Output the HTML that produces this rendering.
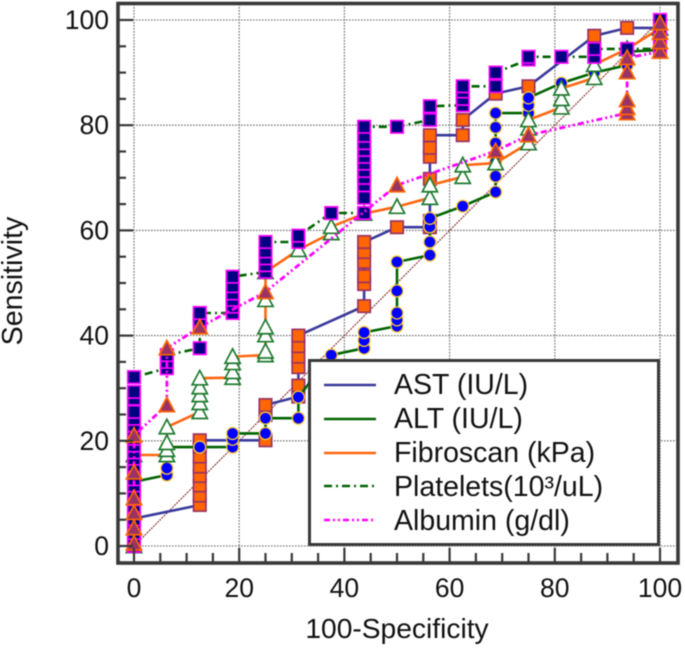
<!DOCTYPE html>
<html lang="en">
<head>
<meta charset="utf-8">
<title>ROC curves</title>
<style>
html,body{margin:0;padding:0;background:#fff;width:685px;height:648px;overflow:hidden}
svg{display:block;filter:blur(0.4px)}
text{font-family:"Liberation Sans",Arial,sans-serif;fill:#111}
</style>
</head>
<body>
<svg id="chart" xmlns="http://www.w3.org/2000/svg" width="685" height="648" viewBox="0 0 685 648"></svg>
<script>
const xTickLabels = [0, 20, 40, 60, 80, 100];
const yTickLabels = [0, 20, 40, 60, 80, 100];
const minorTicks = [5, 10, 15, 25, 30, 35, 45, 50, 55, 65, 70, 75, 85, 90, 95];
const diagonalX = [0, 100];
const diagonalY = [0, 100];

const astX = [0,0,0,12.5,12.5,12.5,12.5,12.5,12.5,12.5,12.5,25,25,25,31.25,31.25,31.25,31.25,31.25,31.25,43.75,43.75,43.75,43.75,43.75,43.75,50,56.25,56.25,56.25,56.25,56.25,56.25,62.5,62.5,68.75,75,87.5,93.75,100,100];
const astY = [0,2.6,5.2,7.8,9.6,11.5,13.3,15.1,17,18.9,20.1,20.1,24.9,26.8,28.4,30.5,34,36,38,40,45.6,49.8,51.3,54,55.9,57.8,60.6,60.6,61.8,69.8,74,75.7,78.1,78.1,81,86,87.4,97,98.5,98.5,100];

const altX = [0,0,0,6.25,6.25,6.25,12.5,18.75,18.75,18.75,25,25,31.25,31.25,37.5,43.75,43.75,43.75,50,50,50,50,50,56.25,56.25,56.25,56.25,62.5,68.75,68.75,68.75,68.75,68.75,68.75,75,75,75,81.25,87.5,93.75,93.75,100,100];
const altY = [0,6,12.2,13.5,14.8,18.8,18.8,18.8,20.3,21.4,21.4,24.3,24.3,28.3,36.3,37.6,39.1,40.6,41.8,43,44.3,48.5,54,55.3,57.8,60.7,62.3,64.6,67.3,70.3,73,76.6,79.6,82.3,82.3,83.8,85.2,88,90,91.4,94,94.3,100];

const fibroX = [0,0,6.25,6.25,6.25,6.25,12.5,12.5,12.5,12.5,12.5,18.75,18.75,18.75,18.75,25,25,25,25,25,25,31.25,37.5,37.5,43.75,50,56.25,56.25,62.5,62.5,68.75,75,75,75,81.25,81.25,81.25,87.5,87.5,93.75,100];
const fibroY = [0,17.3,17.3,18.3,19.6,22.6,25.5,27.2,28.7,30.2,31.9,32,33.1,34.8,36,36.3,37,40.1,41.6,46.8,52.1,56.3,59.5,60.7,63.2,64.5,66.2,68.6,70.2,72.4,72.8,76.6,79.4,81,83.4,85,87,89,91.5,94.5,98.4];

const plateletsX = [0,0,0,0,0,0,0,0,0,0,0,0,0,0,0,0,0,0,0,0,0,0,0,0,6.25,6.25,6.25,12.5,12.5,12.5,12.5,18.75,18.75,18.75,18.75,18.75,18.75,25,25,25,25,25,31.25,31.25,37.5,43.75,43.75,43.75,43.75,43.75,43.75,43.75,43.75,43.75,43.75,43.75,50,56.25,56.25,62.5,62.5,62.5,62.5,68.75,68.75,75,75,81.25,87.5,87.5,93.75,100,100,100];
const plateletsY = [0,1.3,2.5,3.8,5.1,6.4,7.6,8.9,10.2,11.5,12.7,14,15.3,16.6,17.8,19.1,20.4,21.7,22.9,24.2,25.5,28,29.3,32.1,33.8,35,36.3,37.6,42,43,44.3,44.3,45.5,46.8,48,49.4,51.2,52.1,53.4,54.7,56,57.8,57.8,59,63.3,63.3,66.2,68.6,70,71.3,72.7,74,75.3,76.6,78,79.7,79.7,81,83.6,83.8,85,86.4,87.4,87.4,90,92.5,93,93,93,94.5,94.5,94.5,97,100];

const albuminX = [0,0,0,0,0,0,6.25,6.25,12.5,25,50,68.75,75,93.75,93.75,93.75,93.75,93.75,100,100,100,100];
const albuminY = [0.5,3.4,6.3,9.1,14,21,26.8,37.6,41.6,48.3,68.6,75.1,78.1,82.3,83.3,84.8,90.1,92.8,94,95.8,97.6,99.4];

const NS = 'http://www.w3.org/2000/svg';
const svg = document.getElementById('chart');
const sx = v => 134 + v * 5.26;
const sy = v => 546 - v * 5.26;

function make(tag, attrs, parent) {
  const el = document.createElementNS(NS, tag);
  for (const k in attrs) el.setAttribute(k, attrs[k]);
  (parent || svg).appendChild(el);
  return el;
}
function group(name) {
  const g = make('g', {});
  
  
  return g;
}
function pointsOf(xs, ys) {
  return xs.map((x, i) => sx(x).toFixed(1) + ',' + sy(ys[i]).toFixed(1)).join(' ');
}

/* background */
const bg = make('rect', {x: 0, y: 0, width: 685, height: 648, fill: '#fff'});



/* grid */
const grid = group('grid');
xTickLabels.forEach(v => {
  const gx = make('line', {x1: sx(v), x2: sx(v), y1: 4, y2: 563, stroke: '#666', 'stroke-width': 1.1, 'stroke-dasharray': '1.6 1.4'}, grid);
  
  
});
yTickLabels.forEach(v => {
  const gy = make('line', {x1: 118, x2: 678, y1: sy(v), y2: sy(v), stroke: '#666', 'stroke-width': 1.1, 'stroke-dasharray': '1.6 1.4'}, grid);
  
  
});

/* diagonal reference */
const diag = make('polyline', {points: pointsOf(diagonalX, diagonalY), fill: 'none', stroke: '#8f3a3a', 'stroke-width': 1.2, 'stroke-dasharray': '2 1'});



/* marker drawers */
function square(g, x, y, fill, stroke) {
  const m = make('rect', {x: sx(x) - 6.2, y: sy(y) - 6.2, width: 12.4, height: 12.4, fill: fill, stroke: stroke, 'stroke-width': 1.7}, g);
  return m;
}
function circle(g, x, y, fill, stroke) {
  const m = make('circle', {cx: sx(x), cy: sy(y), r: 6, fill: fill, stroke: stroke, 'stroke-width': 1.3}, g);
  return m;
}
function triangle(g, x, y, fill, stroke) {
  const cx = sx(x), cy = sy(y);
  const m = make('polygon', {points: (cx - 7.6) + ',' + (cy + 6.6) + ' ' + (cx + 7.6) + ',' + (cy + 6.6) + ' ' + cx + ',' + (cy - 7.8), fill: fill, stroke: stroke, 'stroke-width': 1.7}, g);
  return m;
}

function drawSeries(name, xs, ys, color, width, dash, marker, fill, edge) {
  const g = group(name + '-series');
  const attrs = {points: pointsOf(xs, ys), fill: 'none', stroke: color, 'stroke-width': width};
  if (dash) attrs['stroke-dasharray'] = dash;
  const ln = make('polyline', attrs, g);
  
  
  xs.forEach((x, i) => {
    const m = marker(g, x, ys[i], fill, edge);
    
    
  });
}

drawSeries('ast', astX, astY, '#3a3a9c', 2.6, '', square, '#ff6600', '#993366');
drawSeries('alt', altX, altY, '#006400', 2.6, '', circle, '#0000ff', '#ffcc33');
drawSeries('fibroscan', fibroX, fibroY, '#ff6611', 2.6, '', triangle, '#ffffff', '#1f7a2f');
drawSeries('platelets', plateletsX, plateletsY, '#006400', 2.6, '8 4 2 4', square, '#000080', '#ff00ff');
drawSeries('albumin', albuminX, albuminY, '#ff00ff', 2.8, '6 3 2 3 2 3', triangle, '#993366', '#ff6600');

/* frame and ticks */
const axes = group('axes');
const frame = make('rect', {x: 118, y: 3.5, width: 560, height: 559.5, fill: 'none', stroke: '#383838', 'stroke-width': 3.6}, axes);



xTickLabels.forEach(v => {
  const t = make('line', {x1: sx(v), x2: sx(v), y1: 563, y2: 548, stroke: '#383838', 'stroke-width': 2.2}, axes);
  
  
  const lb = make('text', {x: sx(v), y: 597, 'text-anchor': 'middle', 'font-size': 26.5}, axes);
  lb.textContent = v;
  
  
});
minorTicks.forEach(v => {
  const t = make('line', {x1: sx(v), x2: sx(v), y1: 563, y2: 553, stroke: '#383838', 'stroke-width': 2.2}, axes);
  
  
});
yTickLabels.forEach(v => {
  const t = make('line', {x1: 118, x2: 133, y1: sy(v), y2: sy(v), stroke: '#383838', 'stroke-width': 2.2}, axes);
  
  
  const lb = make('text', {x: 109, y: sy(v) + 9, 'text-anchor': 'end', 'font-size': 26.5}, axes);
  lb.textContent = v;
  
  
});
minorTicks.forEach(v => {
  const t = make('line', {x1: 118, x2: 126, y1: sy(v), y2: sy(v), stroke: '#383838', 'stroke-width': 2.2}, axes);
  
  
});
</script>
<svg xmlns="http://www.w3.org/2000/svg" width="685" height="648" viewBox="0 0 685 648" style="position:absolute;left:0;top:0">
  <text x="397" y="638" text-anchor="middle" font-size="28.2">100-Specificity</text>
  <text transform="translate(22,281) rotate(-90)" text-anchor="middle" font-size="28.6">Sensitivity</text>
  <g>
    <rect x="309.5" y="360.5" width="349" height="184" fill="#fff" stroke="#383838" stroke-width="3"/>
    <g>
      <line x1="324" x2="376" y1="385" y2="385" stroke="#3a3a9c" stroke-width="2.4"/>
      <text x="394" y="394" font-size="28.5">AST (IU/L)</text>
    </g>
    <g>
      <line x1="324" x2="376" y1="419" y2="419" stroke="#006400" stroke-width="2.4"/>
      <text x="394" y="428" font-size="28.5">ALT (IU/L)</text>
    </g>
    <g>
      <line x1="324" x2="376" y1="453" y2="453" stroke="#ff6611" stroke-width="2.4"/>
      <text x="394" y="462" font-size="28.5">Fibroscan (kPa)</text>
    </g>
    <g>
      <line x1="324" x2="376" y1="486" y2="486" stroke="#006400" stroke-width="2.4" stroke-dasharray="8 4 2 4"/>
      <text x="394" y="496" font-size="28.5">Platelets(10³/uL)</text>
    </g>
    <g>
      <line x1="324" x2="376" y1="520" y2="520" stroke="#ff00ff" stroke-width="2.6" stroke-dasharray="6 3 2 3 2 3"/>
      <text x="394" y="530" font-size="28.5">Albumin (g/dl)</text>
    </g>
  </g>
</svg>
</body>
</html>
